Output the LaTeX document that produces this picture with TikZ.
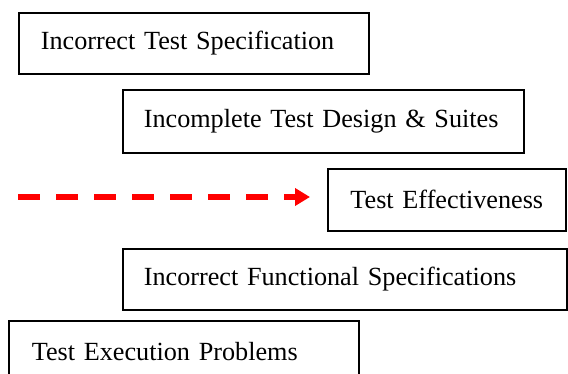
\documentclass[tikz,border=0pt]{standalone}
\usepackage{fontspec}
\setmainfont{Liberation Serif}
\usetikzlibrary{arrows.meta}
\begin{document}
\begin{tikzpicture}[x=1pt,y=-1pt,
  box/.style={draw=black, line width=1.6pt, anchor=north west, inner ysep=0pt,
    font=\fontsize{26.2}{30}\selectfont, align=left},
  redarrow/.style={draw=red, line width=5.5pt, dash pattern=on 22pt off 16pt,
    -{Triangle[length=15pt,width=17pt]}}]
\useasboundingbox (0,0) rectangle (568,374);
\clip (0,0) rectangle (568,374);
\node[box, inner xsep=22pt, text width=306pt, minimum height=61pt] (b1) at (18,12) {Incorrect Test Specification};
\node[box, inner xsep=21pt, text width=359pt, minimum height=63pt] (b2) at (122,89) {Incomplete Test Design \& Suites};
\node[box, inner xsep=4pt, text width=230pt, align=center, minimum height=62pt] (b3) at (327,168) {Test Effectiveness};
\node[box, inner xsep=21pt, text width=402pt, minimum height=61pt] (b4) at (122,248) {Incorrect Functional Specifications};
\node[box, inner xsep=23pt, text width=304pt, minimum height=61pt] (b5) at (8,320) {Test Execution Problems};
\coordinate (s) at (18,197);
\draw[redarrow, shorten >=17pt] (s) -- (s -| b3.west);
\end{tikzpicture}
\end{document}
